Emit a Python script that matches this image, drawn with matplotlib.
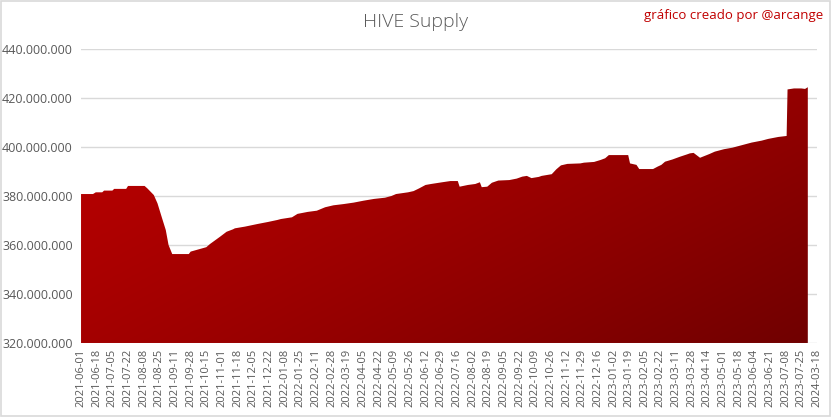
import matplotlib.pyplot as plt
import numpy as np
from matplotlib.patches import Rectangle

# x tick labels (one every 17 categories)
labels = ['2021-06-01', '2021-06-18', '2021-07-05', '2021-07-22', '2021-08-08', '2021-08-25',
          '2021-09-11', '2021-09-28', '2021-10-15', '2021-11-01', '2021-11-18', '2021-12-05',
          '2021-12-22', '2022-01-08', '2022-01-25', '2022-02-11', '2022-02-28', '2022-03-19',
          '2022-04-05', '2022-04-22', '2022-05-09', '2022-05-26', '2022-06-12', '2022-06-29',
          '2022-07-16', '2022-08-02', '2022-08-19', '2022-09-05', '2022-09-22', '2022-10-09',
          '2022-10-26', '2022-11-12', '2022-11-29', '2022-12-16', '2023-01-02', '2023-01-19',
          '2023-02-05', '2023-02-22', '2023-03-11', '2023-03-28', '2023-04-14', '2023-05-01',
          '2023-05-18', '2023-06-04', '2023-06-21', '2023-07-08', '2023-07-25', '2024-03-18']

# category index of each sample and supply (millions of HIVE)
idx = [0, 13, 16, 23, 25, 34, 36, 49, 51, 69, 72, 79, 83, 88, 92, 95, 99, 117, 119, 136,
       140, 151, 158, 165, 167, 178, 192, 203, 213, 217, 229, 235, 246, 256, 265, 274, 285,
       296, 307, 318, 330, 337, 342, 355, 361, 367, 374, 380, 392, 401, 409, 411, 420, 428,
       433, 435, 441, 446, 453, 465, 473, 479, 484, 489, 497, 500, 511, 516, 521, 528, 542,
       546, 557, 564, 569, 573, 594, 596, 603, 606, 621, 626, 630, 634, 642, 650, 658, 661,
       665, 672, 682, 688, 698, 707, 717, 728, 739, 746, 757, 766, 767, 774, 782, 786, 789]
supply = [380.8, 380.8, 381.5, 381.5, 382.2, 382.2, 382.9, 382.9, 384.1, 384.1, 383.1, 380.4,
          377.0, 370.9, 366.1, 360.0, 356.3, 356.3, 357.3, 359.1, 360.4, 363.4, 365.4, 366.4,
          366.8, 367.5, 368.6, 369.4, 370.2, 370.6, 371.3, 372.7, 373.5, 374.0, 375.4, 376.2,
          376.7, 377.3, 378.1, 378.8, 379.3, 380.0, 380.8, 381.5, 382.0, 383.1, 384.5, 384.9,
          385.6, 386.1, 386.1, 383.8, 384.5, 384.9, 385.6, 383.6, 383.8, 385.4, 386.3, 386.5,
          387.1, 387.9, 388.2, 387.3, 387.8, 388.2, 388.9, 390.9, 392.5, 393.1, 393.3, 393.6,
          393.9, 394.7, 395.4, 396.7, 396.7, 393.3, 392.7, 391.0, 391.0, 392.0, 392.7, 394.0,
          394.9, 396.0, 397.0, 397.4, 397.6, 395.6, 397.1, 398.1, 399.1, 399.7, 400.7, 401.8,
          402.6, 403.3, 404.1, 404.5, 423.5, 423.9, 423.9, 423.7, 424.4]

x = np.array(idx)
y = np.array(supply) * 1e6

plt.rcParams['font.family'] = ['Open Sans', 'DejaVu Sans']

fig = plt.figure(figsize=(8.32, 4.17), dpi=100)
ax = fig.add_axes([0.0974, 0.1775, 0.8846, 0.705])

ymin, ymax = 320e6, 440e6
xmax = x[-1]
ytop = y.max()

# diagonal gradient over the area's box, clipped by the area
gx, gy = np.meshgrid(np.linspace(0, 1, 300), np.linspace(1, 0, 200))
t = (0.6 * gx + 0.4 * (1 - gy)) ** 1.3
c0 = np.array([186, 0, 0]) / 255.0
c1 = np.array([112, 0, 0]) / 255.0
img = c0[None, None, :] * (1 - t[..., None]) + c1[None, None, :] * t[..., None]
im = ax.imshow(img, extent=[0, xmax, ymin, ytop], aspect='auto', origin='upper', zorder=2)
poly = ax.fill_between(x, ymin, y, color='none', lw=0)
clip = poly.get_paths()[0]
im.set_clip_path(clip, transform=ax.transData)

ax.set_xlim(0, xmax)
ax.set_ylim(ymin, ymax)
ax.set_yticks(np.arange(320e6, 441e6, 20e6))
ax.set_yticklabels([f'{int(v):,}'.replace(',', '.') for v in np.arange(320e6, 441e6, 20e6)])
ax.set_xticks(np.arange(len(labels)) * 17)
ax.set_xticklabels(labels, rotation=90)
ax.tick_params(axis='y', length=0, labelsize=9, labelcolor='#595959', pad=6)
ax.tick_params(axis='x', length=0, labelsize=8, labelcolor='#595959', pad=4)
ax.grid(axis='y', color='#D9D9D9', lw=1, zorder=0)
ax.set_axisbelow(True)
for s in ax.spines.values():
    s.set_visible(False)

fig.text(0.5, 0.947, 'HIVE Supply', ha='center', va='center', fontsize=14, color='#595959',
         fontweight='light')
fig.text(0.99, 0.962, 'gráfico creado por @arcange', ha='right', va='center', fontsize=9.5,
         color='#C00000')
fig.patches.append(Rectangle((0.001, 0.002), 0.997, 0.995, transform=fig.transFigure,
                             fill=False, edgecolor='#D9D9D9', lw=1.2))

fig.savefig('out.png', dpi=100)
